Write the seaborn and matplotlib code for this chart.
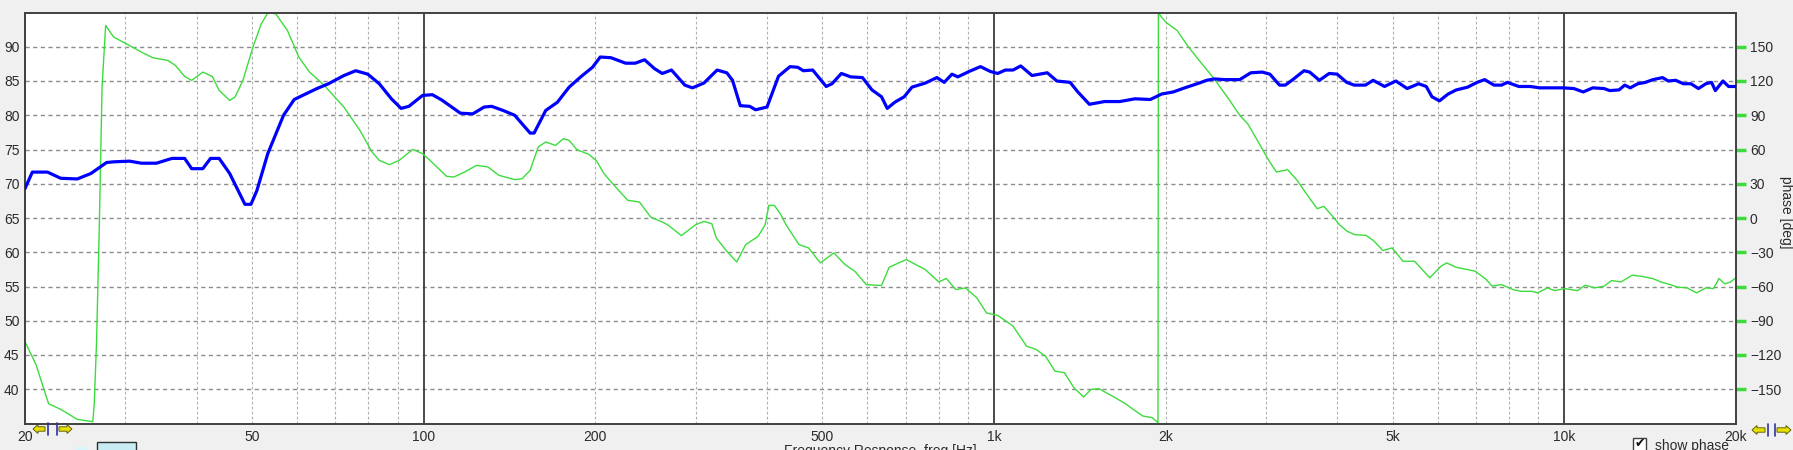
import numpy as np
import pandas as pd
import matplotlib
matplotlib.use("Agg")
import matplotlib.pyplot as plt
from matplotlib.patches import Polygon, Rectangle
from matplotlib.lines import Line2D
import seaborn as sns

# ── Data ──────────────────────────────────────────────────────
mag_freq = [20, 20.6, 21.9, 23.1, 24.7, 26.1, 27.8, 28.6, 30.5, 32, 34, 36.2, 38.1, 39.2, 41,
            42.3, 43.8, 45.7, 48.6, 49.8, 51, 53.3, 56.8, 59.3, 62.1, 65, 68.1, 72.5, 76, 79.8,
            83.6, 87.8, 91.3, 94.2, 99.6, 103.6, 107.7, 112, 116, 121.9, 127.7, 131.6, 137.8,
            144.4, 153.7, 156.2, 163.7, 171.6, 179.9, 188.5, 197.7, 204, 213, 226, 235, 244,
            254, 262, 272, 287, 296, 310, 327, 340, 348, 359, 373, 382, 400, 419, 439, 453,
            463, 481, 508, 520, 540, 561, 588, 611, 635, 650, 670, 696, 718, 758, 794, 818,
            844, 864, 905, 947, 985, 1015, 1047, 1080, 1114, 1166, 1240, 1289, 1360, 1403,
            1470, 1563, 1662, 1767, 1880, 1968, 2062, 2160, 2290, 2360, 2432, 2541, 2697,
            2820, 2954, 3046, 3167, 3242, 3341, 3496, 3577, 3720, 3870, 3996, 4154, 4282,
            4480, 4622, 4839, 5066, 5302, 5554, 5727, 5860, 6040, 6256, 6466, 6768, 7033,
            7249, 7530, 7763, 7943, 8322, 8712, 9054, 9478, 9924, 10390, 10795, 11215, 11740,
            12011, 12475, 12760, 13050, 13456, 13875, 14302, 14870, 15210, 15680, 16170,
            16670, 17190, 17710, 18120, 18400, 18970, 19410, 20000]
mag_db = [69.3, 71.7, 71.7, 70.8, 70.7, 71.5, 73.1, 73.2, 73.3, 73.0, 73.0, 73.7, 73.7, 72.2, 72.2,
          73.7, 73.7, 71.5, 67.0, 67.0, 69.0, 74.4, 80.0, 82.3, 83.1, 83.9, 84.6, 85.8, 86.5, 86.0,
          84.6, 82.4, 81.0, 81.3, 82.9, 83.0, 82.2, 81.2, 80.3, 80.2, 81.2, 81.3, 80.7,
          80.0, 77.4, 77.4, 80.7, 81.9, 84.1, 85.6, 87.0, 88.5, 88.4, 87.6, 87.6, 88.1,
          86.8, 86.1, 86.6, 84.4, 84.0, 84.7, 86.6, 86.2, 85.1, 81.4, 81.3, 80.8, 81.2, 85.7, 87.1, 87.0,
          86.5, 86.6, 84.2, 84.6, 86.1, 85.6, 85.5, 83.7, 82.7, 81.0, 81.9, 82.7, 84.1, 84.7, 85.5, 84.8,
          86.0, 85.6, 86.4, 87.1, 86.4, 86.1, 86.6, 86.6, 87.2, 85.8, 86.2, 85.0, 84.8, 83.4,
          81.6, 82.0, 82.0, 82.4, 82.3, 83.1, 83.4, 84.0, 84.7, 85.1, 85.3, 85.2, 85.2,
          86.2, 86.3, 86.0, 84.4, 84.4, 85.2, 86.5, 86.3, 85.1, 86.1, 86.0, 84.8, 84.4,
          84.4, 85.1, 84.2, 85.0, 83.9, 84.6, 84.2, 82.7, 82.1, 83.1, 83.7, 84.1, 84.8,
          85.2, 84.4, 84.4, 84.8, 84.2, 84.2, 84.0, 84.0, 84.0, 83.9, 83.4, 84.0, 83.9,
          83.6, 83.7, 84.4, 84.0, 84.6, 84.8, 85.2, 85.5, 85.0, 85.1, 84.6,
          84.6, 83.9, 84.6, 84.8, 83.6, 85.0, 84.2, 84.2]

phase_freq = [20, 20.9, 22, 23.1, 24.7, 26.3, 26.45, 26.7, 27.0, 27.3, 27.7, 28.6, 30.1, 32, 33.5,
              35.6, 36.7, 38.1, 39.2, 41, 42.6, 43.8, 45.7, 46.7, 48.2, 50.2, 51.9, 53.3, 55,
              57.7, 60.4, 63.1, 67, 72.5, 77.3, 81.2, 83.6, 87.1, 90.6, 95.7, 99.6, 102.6,
              109.7, 113, 118, 123.8, 129.6, 135.5, 144.4, 148.8, 153.7, 158.8, 163.7, 170.3,
              175.8, 179.9, 185.7, 194.9, 201, 207, 217, 228, 239, 250, 262, 268, 283, 300,
              310, 320, 326, 340, 354, 367, 386, 397, 403, 412, 422, 432, 455, 473, 496, 524,
              548, 570, 597, 635, 655, 702, 729, 758, 800, 825, 857, 891, 933, 970, 1016,
              1080, 1140, 1185, 1231, 1279, 1329, 1381, 1436, 1480, 1527, 1612, 1701, 1754,
              1823, 1895, 1939, 1942, 2000, 2094, 2194, 2290, 2432, 2590, 2697, 2785, 2918,
              3032, 3127, 3273, 3401, 3562, 3688, 3789, 3933, 4036, 4160, 4289, 4489, 4628,
              4808, 4988, 5217, 5464, 5810, 6079, 6218, 6456, 6977, 7300, 7468, 7763, 8129,
              8384, 8779, 8985, 9334, 9625, 10000, 10550, 10880, 11310, 11740, 12106, 12571,
              13150, 13660, 14302, 14760, 15330, 15800, 16420, 17060, 17710, 18260, 18670,
              19110, 19560, 20000]
phase_deg = [-108.4, -128.2, -162.7, -167.6, -176.4, -178.4, -163, -108, -6, 115, 168.7, 158.5, 152.6, 145.3, 140.4,
             138, 133.7, 124, 120.5, 127.8, 124, 111.8, 103, 106, 120.5, 149.7, 170, 179.5, 179,
             164.3, 141, 127.8, 116, 97, 76.8, 57.8, 50.5, 46.7, 50.5, 60.1, 56.3, 50.5,
             36.5, 35.9, 40.3, 46.1, 44.7, 37.4, 33.6, 34.4, 41.7, 62.2, 66.6, 63.6,
             69.5, 68, 59.8, 55.7, 50, 39, 27.2, 15.5, 14, 0.9, -3.5, -6, -15.4, -5.8,
             -3, -5, -17.5, -29.1, -38.5, -23.3, -16, -5.8, 11.1, 11, 3.8, -6, -23.3, -26.2, -39.3, -30.6,
             -40.8, -46.6, -58.3, -59.2, -43.1, -36.4, -40.8, -45.2, -56, -53, -62.7, -61.2, -69.9, -83.1, -85.4,
             -94.7, -112.2, -115.1, -121, -134.1, -135.5, -148.7, -156.8, -150.1, -149.5, -155.9, -162.7, -167.6,
             -173.4, -174.9, -179.3, 179.5, 171.6, 164.3, 149.7, 138, 122, 103, 89.9, 82.6, 65.1,
             50.5, 40.3, 42.3, 33, 18.4, 8.2, 10.2, 0.9, -6, -11.6, -14.6, -15.2, -19.8,
             -28.5, -26.2, -37.9, -37.9, -52.4, -42.2, -39.3, -43.1, -46.6, -53.9, -59.7, -58.3, -62.7,
             -64.2, -64.2, -65.6, -61.2, -63.6, -61.8, -63.6, -58.9, -61.2, -59.7, -54.8, -56,
             -50.1, -51.1, -53.1, -56, -58.3, -60.6, -61.2, -65.6, -61.2, -61.8, -53,
             -57.7, -56, -52.4]

xtick_vals = [20, 50, 100, 200, 500, 1000, 2000, 5000, 10000, 20000]
xtick_labels = ["20", "50", "100", "200", "500", "1k", "2k", "5k", "10k", "20k"]
db_ticks = list(range(40, 95, 5))
phase_ticks = list(range(-150, 151, 30))

mag = pd.DataFrame({"freq": mag_freq, "db": mag_db})
phase = pd.DataFrame({"freq": phase_freq, "deg": phase_deg})

# ── Figure / style ────────────────────────────────────────────
sns.set_style("white")
plt.rcParams['font.family'] = ['Liberation Sans', 'DejaVu Sans']

W, H = 1793, 450
fig = plt.figure(figsize=(W / 100, H / 100), dpi=100, facecolor="#f0f0f0")


def fx(x):
    return x / W


def fy(y):
    return 1 - y / H


left, right, top, bottom = 25, 1736, 12.5, 423.5
ax_ph = fig.add_axes([fx(left), fy(bottom), fx(right - left), (bottom - top) / H])
ax_db = ax_ph.twinx()
# dB curve (left axis) must sit above the phase curve
ax_db.yaxis.tick_left()
ax_ph.yaxis.tick_right()
ax_db.set_zorder(2)
ax_ph.set_zorder(1)
ax_db.patch.set_visible(False)
ax_ph.patch.set_visible(True)
ax_ph.set_facecolor("white")

for a in (ax_ph, ax_db):
    a.set_xscale("log")
    a.set_xlim(20, 20000)
ax_db.set_ylim(35, 95)
ax_ph.set_ylim(-180, 180)

# ── Grid ──────────────────────────────────────────────────────
for d in phase_ticks:
    ax_ph.axhline(d, color="#8c8c8c", lw=1.0, ls=(0, (3, 2.5)), zorder=0)
for dec in [10, 100, 1000, 10000]:
    for m in range(2, 10):
        f = dec * m
        if 20 < f < 20000:
            ax_ph.axvline(f, color="#b0b0b0", lw=0.8, ls=(0, (2.5, 2)), zorder=0)
for f in [100, 1000, 10000]:
    ax_ph.axvline(f, color="#3c3c3c", lw=1.3, zorder=0.5)

# ── Curves ────────────────────────────────────────────────────
sns.lineplot(data=phase, x="freq", y="deg", ax=ax_ph, color="#3ddc3d",
             linewidth=1.0, estimator=None, sort=False, zorder=2)
sns.lineplot(data=mag, x="freq", y="db", ax=ax_db, color="#0000ff",
             linewidth=2.3, estimator=None, sort=False, zorder=3)

# ── Axes cosmetics ────────────────────────────────────────────
txt = "#2b2b2b"
ax_db.set_yticks(db_ticks)
ax_db.tick_params(axis="y", length=0, pad=4, labelsize=10, labelcolor=txt,
                  left=True, labelleft=True, right=False, labelright=False)
ax_ph.set_yticks(phase_ticks)
ax_ph.tick_params(axis="y", length=7, width=2.5, color="#3ddc3d", pad=3,
                  labelsize=10, labelcolor=txt, right=True, labelright=True,
                  left=False, labelleft=False)
ax_ph.set_xticks(xtick_vals)
ax_ph.set_xticklabels(xtick_labels)
ax_ph.xaxis.set_minor_locator(matplotlib.ticker.NullLocator())
ax_ph.tick_params(axis="x", length=0, pad=5, labelsize=10, labelcolor=txt)
ax_db.tick_params(axis="x", length=0, labelbottom=False)
for a in (ax_ph, ax_db):
    a.set_xlabel("")
    a.set_ylabel("")
    for s in a.spines.values():
        s.set_color("#404040")
        s.set_linewidth(1.2)

fig.text(fx(880), fy(444), "Frequency Response  freq [Hz]", ha="center", va="top",
         fontsize=10, color=txt)
fig.text(fx(1786), fy(212), "phase [deg]", rotation=-90, ha="center", va="center",
         fontsize=10, color=txt)

# ── Widgets along the bottom edge ─────────────────────────────
def arrow(x0, x1, yc, pointing):
    hw = 4.5
    sh = 2.2
    if pointing == "left":
        pts = [(x0, yc), (x0 + 5, yc - hw), (x0 + 5, yc - sh), (x1, yc - sh),
               (x1, yc + sh), (x0 + 5, yc + sh), (x0 + 5, yc + hw)]
    else:
        pts = [(x1, yc), (x1 - 5, yc - hw), (x1 - 5, yc - sh), (x0, yc - sh),
               (x0, yc + sh), (x1 - 5, yc + sh), (x1 - 5, yc + hw)]
    fig.patches.append(Polygon([(fx(px), fy(py)) for px, py in pts], closed=True,
                               transform=fig.transFigure, facecolor="#e8e000",
                               edgecolor="#505000", lw=0.6))


def bar(x, y0, y1):
    fig.lines.append(Line2D([fx(x), fx(x)], [fy(y0), fy(y1)], transform=fig.transFigure,
                            color="#3030a0", lw=1.2))


arrow(33, 45, 429, "left")
bar(48, 423, 435)
bar(57, 423, 435)
arrow(59, 72, 429, "right")
arrow(1752, 1765, 430, "left")
bar(1768, 424, 436)
bar(1775, 424, 436)
arrow(1777, 1791, 430, "right")

fig.patches.append(Rectangle((fx(97), fy(451)), fx(39), 9 / H, transform=fig.transFigure,
                             facecolor="#c8ecf4", edgecolor="#303030", lw=1.0))
fig.patches.append(Rectangle((fx(75), fy(451)), fx(12), 4 / H, transform=fig.transFigure,
                             facecolor="#d8f6fb", edgecolor="none"))
fig.patches.append(Rectangle((fx(1633), fy(451)), fx(13), 13 / H, transform=fig.transFigure,
                             facecolor="white", edgecolor="#404040", lw=1.0))
fig.text(fx(1639.5), fy(444), "\u2714", ha="center", va="center", fontsize=9,
         color="#111111", family=["DejaVu Sans"])
fig.text(fx(1655), fy(439), "show phase", ha="left", va="top", fontsize=10, color=txt)

fig.savefig("out.png", dpi=100, facecolor=fig.get_facecolor())
